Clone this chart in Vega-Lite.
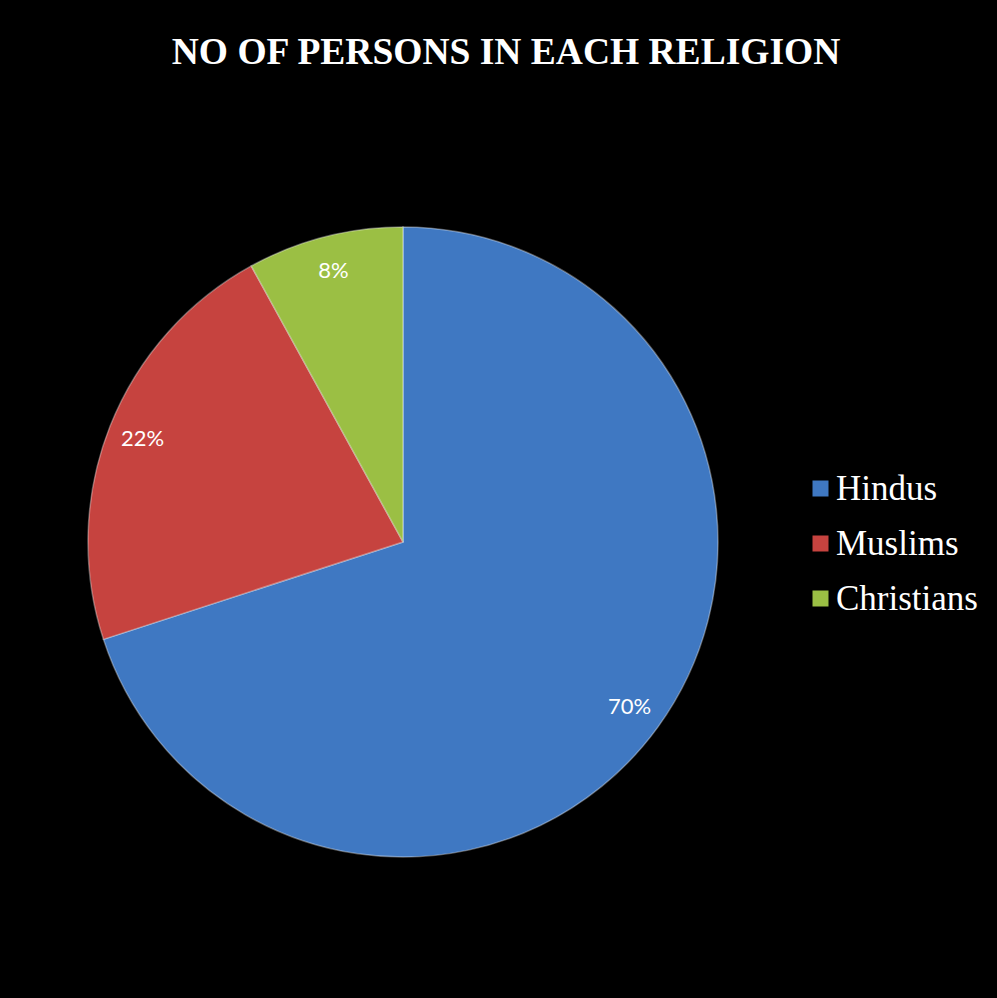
{
  "$schema": "https://vega.github.io/schema/vega-lite/v6.json",
  "autosize": "none",
  "padding": {"left": 0, "top": 0, "right": 191, "bottom": 0},
  "width": 806,
  "height": 1084,
  "background": "black",
  "config": {"view": {"stroke": null}},
  "title": {
    "text": "NO OF PERSONS IN EACH RELIGION",
    "font": "Liberation Serif",
    "fontSize": 37.5,
    "fontWeight": "bold",
    "color": "white",
    "anchor": "middle",
    "frame": "group",
    "offset": -71,
    "dx": 103
  },
  "data": {
    "values": [
      {"religion": "Hindus", "value": 0.70},
      {"religion": "Muslims", "value": 0.22},
      {"religion": "Christians", "value": 0.08}
    ]
  },
  "encoding": {
    "theta": {"field": "value", "type": "quantitative", "stack": true},
    "order": {"field": "value", "type": "quantitative", "sort": "descending"},
    "color": {
      "field": "religion",
      "type": "nominal",
      "scale": {
        "domain": ["Hindus", "Muslims", "Christians"],
        "range": ["#3f78c2", "#c6433f", "#9bbf44"]
      },
      "legend": {
        "title": null,
        "orient": "none",
        "legendX": 803,
        "legendY": 471,
        "padding": 0,
        "symbolType": "square",
        "symbolSize": 256,
        "symbolStrokeWidth": 0,
        "symbolOpacity": 1,
        "labelFont": "Liberation Serif",
        "labelFontSize": 35,
        "labelColor": "white",
        "labelOffset": -2,
        "rowPadding": 19,
        "labelLimit": 300
      }
    }
  },
  "layer": [
    {
      "mark": {"type": "arc", "outerRadius": 315, "stroke": "#ffffff", "strokeOpacity": 0.35, "strokeWidth": 1.5}
    },
    {
      "mark": {"type": "text", "radius": 280, "font": "Lato", "fontSize": 22, "color": "white"},
      "encoding": {
        "text": {"field": "value", "type": "quantitative", "format": ".0%"},
        "color": {"value": "white"}
      }
    }
  ]
}
